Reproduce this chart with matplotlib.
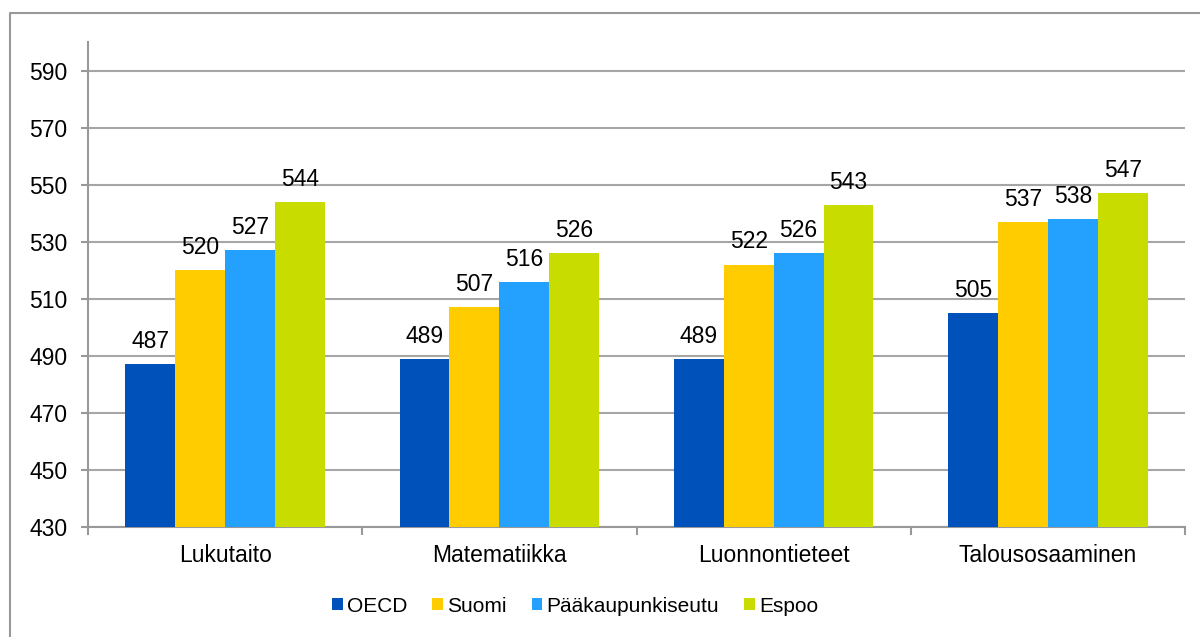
import matplotlib.pyplot as plt
import numpy as np
from matplotlib.lines import Line2D

plt.rcParams['font.family'] = ['Liberation Sans', 'DejaVu Sans']

categories = ['Lukutaito', 'Matematiikka', 'Luonnontieteet', 'Talousosaaminen']
series_names = ['OECD', 'Suomi', 'Pääkaupunkiseutu', 'Espoo']
oecd = [487, 489, 489, 505]
suomi = [520, 507, 522, 537]
paakaupunkiseutu = [527, 516, 526, 538]
espoo = [544, 526, 543, 547]
colors = ['#0052BA', '#FFCC00', '#24A0FF', '#C8DC00']

values = [oecd, suomi, paakaupunkiseutu, espoo]

fig = plt.figure(figsize=(12, 6.37), dpi=100)
ax = fig.add_axes([88 / 1200, 1 - 527 / 637, 1097 / 1200, 485 / 637])

x = np.arange(len(categories))
width = 0.182
for i, (name, vals, c) in enumerate(zip(series_names, values, colors)):
    pos = x + (i - 1.5) * width
    ax.bar(pos, [v - 430 for v in vals], width, bottom=430, color=c, label=name, zorder=3)
    for p, v in zip(pos, vals):
        ax.annotate(str(v), (p, v), xytext=(0, 8), textcoords='offset points',
                    ha='center', va='bottom', fontsize=16.5)

ax.set_ylim(430, 600)
ax.set_yticks(np.arange(430, 600, 20))
ax.set_xlim(-0.5, len(categories) - 0.5)
ax.set_xticks(x)
ax.set_xticklabels(categories)
ax.set_xticks(np.arange(-0.5, len(categories)), minor=True)
ax.tick_params(axis='x', which='major', length=0, pad=12, labelsize=16.5)
ax.tick_params(axis='x', which='minor', length=6, color='#999999', width=1.5)
ax.tick_params(axis='y', length=5, color='#999999', width=1.5, labelsize=16.5, pad=10)

ax.grid(axis='y', color='#A6A6A6', linewidth=1.5, zorder=0)
for s in ['top', 'right']:
    ax.spines[s].set_visible(False)
for s in ['left', 'bottom']:
    ax.spines[s].set_color('#999999')
    ax.spines[s].set_linewidth(1.5)

leg = fig.legend(loc='center', bbox_to_anchor=(575 / 1200, 1 - 606 / 637), ncol=4,
                 frameon=False, fontsize=15, handlelength=0.52, handleheight=0.52,
                 handletextpad=0.2, columnspacing=1.2)

# outer chart border
fig.add_artist(Line2D([10 / 1200, 10 / 1200, 1], [0, 1 - 13 / 637, 1 - 13 / 637],
                      transform=fig.transFigure, color='#999999', linewidth=1.5))

fig.savefig('out.png', dpi=100)
